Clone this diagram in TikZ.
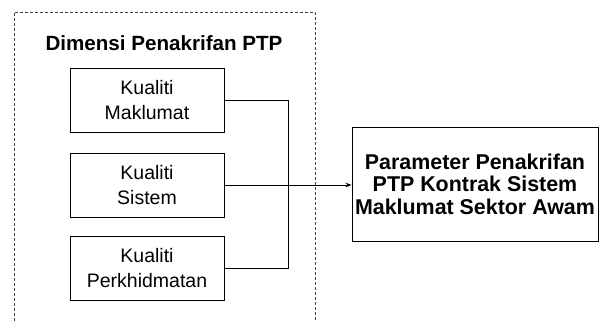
\documentclass[tikz,border=0pt]{standalone}
\usepackage{fontspec}
\setmainfont{Liberation Sans}
\usetikzlibrary{arrows.meta}
\begin{document}
\begin{tikzpicture}[x=1pt,y=-1pt,
  dimbox/.style={draw,line width=0.9pt,minimum width=154pt,minimum height=64pt,
    align=center,inner sep=0pt,font=\fontsize{19.5}{25}\selectfont},
  parambox/.style={draw,line width=0.9pt,minimum width=246pt,minimum height=114pt,
    align=center,inner sep=0pt,font=\fontsize{21.4}{22.5}\selectfont\bfseries},
  link/.style={line width=0.8pt}]
\useasboundingbox (0,0) rectangle (599,321);
% dashed frame, open at the bottom
\draw[densely dashed,line width=0.6pt,black!75] (14,321) -- (14,12) -- (315,12) -- (315,321);
\node[font=\fontsize{20.6}{25}\selectfont\bfseries] (title) at (164,43) {Dimensi Penakrifan PTP};
\node[dimbox] (maklumat) at (147,100) {Kualiti\\Maklumat};
\node[dimbox] (sistem) at (147,185) {Kualiti\\Sistem};
\node[dimbox] (khidmat) at (147,268) {Kualiti\\Perkhidmatan};
\node[parambox] (param) at (475,184) {Parameter Penakrifan\\PTP Kontrak Sistem\\Maklumat Sektor Awam};
\coordinate (top) at (288,100);
\coordinate (bot) at (288,268);
\draw[link] (maklumat.east) -- (top) -- (bot) -- (khidmat.east);
\draw[link,-{Stealth[length=6pt,width=4.5pt]}] (sistem.east) -- (sistem.east -| param.west);
\end{tikzpicture}
\end{document}
